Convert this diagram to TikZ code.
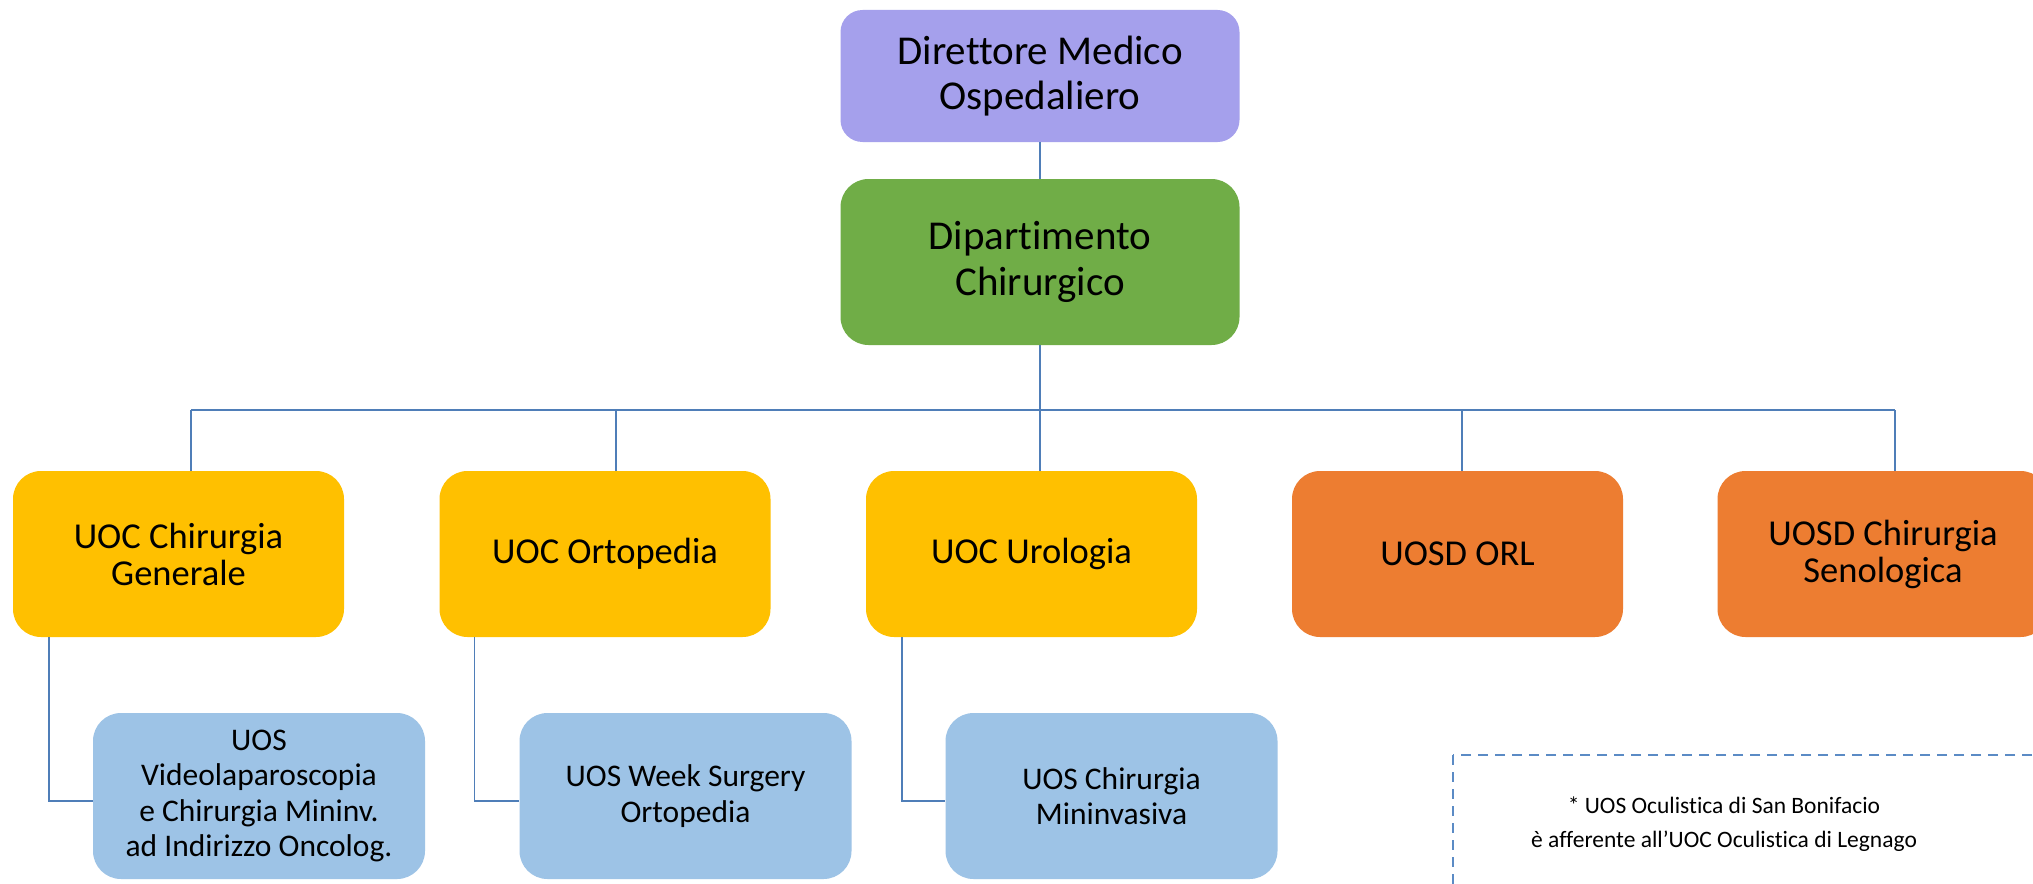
\documentclass[tikz,border=0pt]{standalone}
\usepackage{fontspec}
\setmainfont{Carlito}[Ligatures=NoCommon]
\definecolor{dirc}{HTML}{A5A0EC}
\definecolor{dipc}{HTML}{70AD47}
\definecolor{uocc}{HTML}{FFC000}
\definecolor{uosdc}{HTML}{ED7D31}
\definecolor{uosc}{HTML}{9DC3E6}
\definecolor{linec}{HTML}{4F7EB8}
\definecolor{dashc}{HTML}{5B8BC5}
\begin{document}
\begin{tikzpicture}[x=1pt,y=-1pt,
  basebox/.style={rectangle, inner sep=0pt, align=center, text=black},
  topbox/.style={basebox, rounded corners=22pt, minimum width=399pt, minimum height=132pt, font=\fontsize{41}{45}\selectfont},
  dipbox/.style={basebox, rounded corners=28pt, minimum width=399pt, minimum height=166pt, font=\fontsize{41}{46}\selectfont},
  unitbox/.style={basebox, rounded corners=28pt, minimum width=331pt, minimum height=166pt, font=\fontsize{36.5}{37}\selectfont},
  uocbox/.style={unitbox, fill=uocc},
  uosdbox/.style={unitbox, fill=uosdc},
  uosbox/.style={basebox, fill=uosc, rounded corners=28pt, minimum width=332pt, minimum height=166pt, font=\fontsize{31.5}{35.5}\selectfont},
  conn/.style={draw=linec, line width=1.6pt},
  notebox/.style={draw=dashc, line width=2pt, dash pattern=on 10pt off 7pt}
]
\clip (0,0) rectangle (2033,883);
\fill[white] (0,0) rectangle (2033,883);

\node[topbox, fill=dirc] (dir) at (1040,76) {Direttore Medico\\Ospedaliero};
\node[dipbox, fill=dipc] (dip) at (1040,262) {Dipartimento\\Chirurgico};

\node[uocbox] (uoc1) at (178.5,554) {UOC Chirurgia\\Generale};
\node[uocbox] (uoc2) at (605,554) {UOC Ortopedia};
\node[uocbox] (uoc3) at (1031.5,554) {UOC Urologia};
\node[uosdbox] (uosd1) at (1457.5,554) {UOSD ORL};
\node[uosdbox] (uosd2) at (1883,554) {UOSD Chirurgia\\Senologica};

\node[uosbox] (uos1) at (259,796) {UOS\\Videolaparoscopia\\e Chirurgia Mininv.\\ad Indirizzo Oncolog.};
\node[uosbox] (uos2) at (685.5,796) {UOS Week Surgery\\Ortopedia};
\node[uosbox] (uos3) at (1111.5,796) {UOS Chirurgia\\Mininvasiva};

\draw[conn] (dir) -- (dip);
\coordinate (busL) at (191,410);
\coordinate (busR) at (1895,410);
\draw[conn] (busL) -- (busR);
\draw[conn] (dip.south) -- (dip.south |- busL);
\foreach \n/\s in {uoc1/12.5, uoc2/11, uoc3/8.5, uosd1/4.5, uosd2/12}
  \draw[conn] ([xshift=\s]\n.north) -- ([xshift=\s]\n.north |- busL);

\draw[conn] ([xshift=36]uoc1.south west) |- ([yshift=-5]uos1.west);
\draw[conn] ([xshift=35]uoc2.south west) |- ([yshift=-5]uos2.west);
\draw[conn] ([xshift=36]uoc3.south west) |- ([yshift=-5]uos3.west);

\draw[notebox] (1453,755) rectangle (2060,905);
\node[basebox, font=\fontsize{23.5}{34.5}\selectfont] (note) at (1724,824)
  {* UOS Oculistica di San Bonifacio\\è afferente all’UOC Oculistica di Legnago};
\end{tikzpicture}
\end{document}
